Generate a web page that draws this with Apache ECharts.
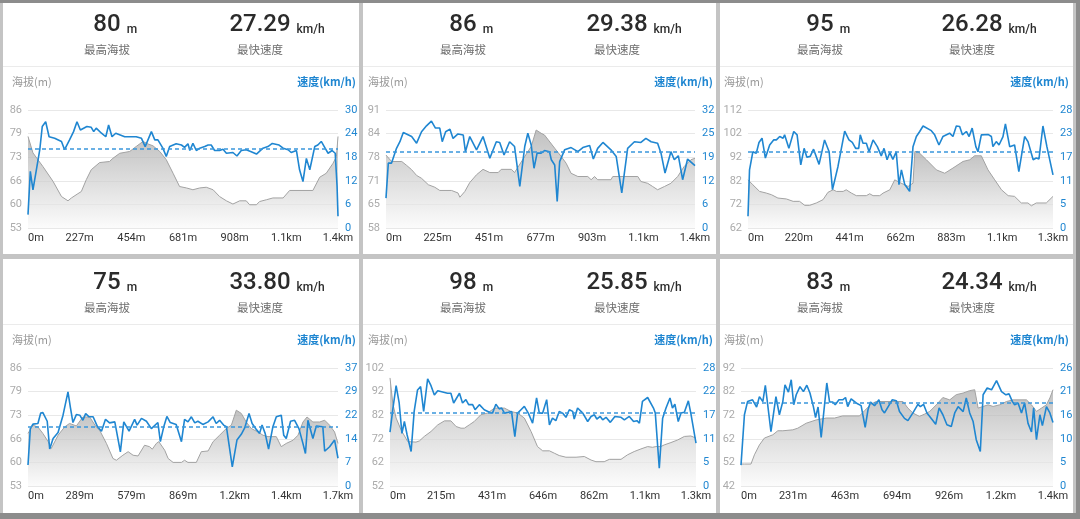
<!DOCTYPE html>
<html><head><meta charset="utf-8">
<script src="https://cdn.jsdelivr.net/npm/echarts@6/dist/echarts.min.js"></script>
<style>
html,body{margin:0;padding:0;background:#8c8c8c;width:1080px;height:519px;overflow:hidden;position:relative;}
#frame{position:absolute;left:0;top:3px;width:1076px;height:510px;background:#c4c4c4;}
.card{position:absolute;background:#fff;}
#c{position:absolute;left:0;top:0;width:1080px;height:519px;}
</style>
</head><body><div id="frame"></div><div id="cards"></div><div id="c"></div>
<script>
// ---------------- DATA ----------------
const maxElevation = ['80', '86', '95', '75', '98', '83'];
const maxSpeed = ['27.29', '29.38', '26.28', '33.80', '25.85', '24.34'];
const avgSpeed = [20.1, 20.7, 18.1, 18.6, 17.5, 18.4];

const elevTicks = [[53,60,66,73,79,86],[58,65,71,78,84,91],[62,72,82,92,102,112],[53,60,66,73,79,86],[52,62,72,82,92,102],[42,52,62,72,82,92]];
const speedTicks = [[0,6,12,18,24,30],[0,6,12,19,25,32],[0,5,11,17,23,28],[0,7,14,22,29,37],[0,5,11,17,22,28],[0,5,10,16,21,26]];
const distTicks = [
  ['0m','227m','454m','681m','908m','1.1km','1.4km'],
  ['0m','225m','451m','677m','903m','1.1km','1.4km'],
  ['0m','220m','441m','662m','883m','1.1km','1.3km'],
  ['0m','289m','579m','869m','1.2km','1.4km','1.7km'],
  ['0m','215m','431m','646m','862m','1.1km','1.3km'],
  ['0m','231m','463m','694m','926m','1.2km','1.4km']
];

// positions are % of route distance
const p1ElevPos = [0,1.6,4.8,8.1,10.8,12.9,14.0,16.1,17.2,18.8,20.4,23.1,26.3,27.4,29.6,32.8,34.9,37.1,38.7,40.3,42.5,44.6,46.8,48.9,51.1,53.2,55.4,57.5,59.7,61.8,64.0,66.1,68.3,70.4,71.5,73.7,74.7,76.9,79.0,82.3,84.4,91.9,94.1,96.2,98.4,99.5,100];
const p1Elev = [78.6,74.0,70.2,66.0,61.8,60.6,61.4,62.6,63.2,66.5,69.3,71.3,71.6,72.5,73.9,74.4,75.8,77.2,76.5,76.0,74.4,72.1,68.3,64.6,64.2,63.7,64.2,64.4,63.7,61.8,60.6,59.7,60.6,60.6,59.5,59.5,60.4,60.9,61.4,61.4,63.5,63.5,67.2,68.3,71.1,73.0,78.6];
const p1SpeedPos = [0,0.75,1.6,2.7,3.8,4.6,5.7,6.8,8.6,10.8,11.8,13.4,14.7,15.8,16.9,19.0,20.4,21.2,22.0,23.7,25.1,26.0,27.1,28.3,31.2,34.9,36.6,37.8,39.8,40.9,41.9,43.5,44.6,45.7,47.8,49.5,50.5,51.6,52.2,53.2,54.3,55.4,57.0,58.1,59.1,60.2,61.8,62.9,64.0,66.1,67.4,68.8,70.4,72.0,73.7,75.8,77.4,78.8,81.0,82.3,83.9,84.9,86.6,87.6,88.7,89.8,90.9,92.5,93.5,94.6,95.7,96.8,98.1,99.1,99.7,100];
const p1Speed = [3.4,14.4,9.7,14.8,19.9,25.8,27.0,23.2,22.8,22.0,19.9,22.4,24.5,27.0,24.9,25.8,25.6,24.5,25.4,24.1,23.2,26.2,23.2,24.1,23.2,23.2,22.8,20.7,24.5,22.4,22.4,20.3,18.2,20.7,21.4,21.1,20.5,21.4,19.7,21.5,19.7,20.3,20.7,21.1,21.1,19.7,19.7,20.0,19.0,19.2,18.3,19.7,19.9,19.4,18.8,20.3,20.7,21.5,21.1,20.3,19.9,19.2,19.7,14.8,11.8,17.7,14.8,20.7,21.1,22.0,20.5,19.0,19.7,19.0,10.6,3.0];

const p2ElevPos = [0,1.8,5.1,6.7,8.3,9.9,11.5,13.7,15.8,17.4,21.2,23.3,23.9,25.5,27.1,29.3,31.4,33.6,36.3,37.3,40.6,41.6,44.9,47.0,48.6,50.2,51.3,54.6,56.7,58.3,59.9,62.1,65.3,66.4,67.5,68.5,72.8,73.4,81.5,82.5,84.7,86.3,87.9,90.1,92.2,94.4,96.5,98.7,100];
const p2Elev = [78.4,76.6,76.6,75.5,74.3,72.7,71.9,70.1,69.4,68.5,68.5,67.8,66.6,68.2,70.7,72.9,74.4,73.5,73.5,74.4,74.4,73.5,78.0,80.8,85.4,84.5,84.0,80.3,78.0,76.1,73.3,72.4,72.4,71.5,72.4,71.5,71.5,72.4,72.4,71.0,70.5,69.6,68.7,69.6,70.5,72.4,75.2,77.1,77.5];
const p2SpeedPos = [0,0.75,1.8,3.4,4.5,5.6,8.3,9.9,11.5,13.1,14.7,16.0,17.4,18.2,19.3,20.7,21.7,23.3,25.0,25.7,27.1,29.3,31.4,33.6,35.7,36.8,38.2,40.0,41.6,43.3,44.9,45.9,47.0,47.9,48.9,50.2,51.3,52.9,53.5,54.6,55.4,56.2,57.8,59.9,62.1,63.7,65.9,67.1,68.5,70.2,72.8,74.5,76.3,78.2,80.4,82.5,84.1,85.8,87.9,89.0,90.3,92.2,93.3,94.6,96.0,97.6,100];
const p2Speed = [8.1,17.6,17.6,21.6,23.4,25.9,24.8,23.0,26.1,27.7,29.0,27.1,27.1,23.4,26.1,26.8,24.3,25.5,25.2,20.7,24.8,21.2,24.8,18.9,23.4,23.2,19.8,23.4,22.1,11.3,22.1,25.7,22.5,16.2,20.3,20.3,21.0,20.7,18.5,17.1,7.2,18.0,21.2,21.8,20.7,21.8,22.4,18.7,21.6,23.2,21.2,19.4,9.5,21.6,23.4,23.2,24.3,23.4,23.0,20.3,14.9,20.7,18.5,19.6,13.1,18.7,16.9];

const p3ElevPos = [0,1.6,3.8,6.0,7.7,9.8,12.6,14.8,16.9,18.6,20.2,22.4,24.6,26.2,27.9,29.0,31.2,32.2,33.9,35.5,38.8,39.9,41.0,43.2,44.3,46.5,48.1,49.7,52.5,54.1,54.7,55.7,58.5,61.8,64.5,67.2,70.5,72.7,74.3,76.5,78.7,80.9,83.1,85.3,87.4,89.6,91.8,92.9,94.5,97.8,100];
const p3Elev = [82.4,80.3,77.5,76.8,76.1,74.7,74.3,73.3,73.3,71.6,71.6,72.6,74.0,77.1,78.2,77.5,77.5,78.2,76.8,75.7,75.7,76.5,75.7,75.7,76.8,78.2,82.4,81.3,79.6,81.0,94.4,94.4,90.9,86.6,85.2,87.4,90.2,90.9,92.6,92.6,86.6,82.4,78.2,75.7,75.4,72.6,72.6,71.4,72.6,72.6,75.4];
const p3SpeedPos = [0,0.5,1.6,2.7,3.6,4.6,5.7,7.1,8.4,9.3,10.4,11.5,12.0,13.4,15.0,16.1,17.3,18.4,19.3,20.4,21.5,23.3,25.1,26.6,27.7,29.5,31.7,33.1,34.2,35.3,36.3,36.8,37.7,38.8,39.7,41.0,42.4,43.7,44.6,45.6,46.5,47.5,48.6,49.5,50.3,51.4,53.0,54.1,55.2,56.3,57.4,60.1,61.2,62.6,63.9,66.1,67.2,68.3,69.4,70.3,71.6,72.5,73.5,74.7,75.4,76.5,78.7,79.8,80.3,81.4,82.3,83.6,84.4,85.8,87.4,88.8,90.7,91.8,93.5,94.5,95.4,96.7,98.0,100];
const p3Speed = [2.8,13.8,18.1,17.7,20.3,21.3,16.6,19.7,20.9,20.9,21.7,21.3,22.1,18.9,22.9,22.1,15.0,18.9,16.8,17.0,18.7,15.1,20.9,18.1,9.1,14.6,23.0,20.9,20.3,18.9,18.9,22.1,20.1,20.1,18.1,20.9,19.3,17.1,18.9,16.2,17.9,16.3,18.1,10.3,13.8,10.3,8.7,19.3,21.7,22.9,24.2,23.1,22.1,19.7,21.7,22.5,21.7,24.2,24.1,22.1,22.9,21.7,23.7,19.3,18.1,22.1,22.2,21.7,19.3,20.5,19.7,21.7,24.7,19.3,19.7,13.4,21.7,20.5,16.2,16.6,16.4,24.2,19.3,12.6];

const p4ElevPos = [0,1.6,3.2,4.8,6.5,7.5,9.7,11.8,13.4,15.6,17.7,19.9,22.0,23.1,25.3,27.4,28.5,30.6,32.3,33.9,35.5,37.6,39.2,40.1,41.4,42.2,44.1,45.2,46.8,49.5,50.5,51.6,54.3,55.9,58.1,59.7,61.8,64.0,65.6,67.2,68.8,70.4,72.0,74.2,75.8,77.4,80.1,81.7,83.3,85.5,87.1,88.7,90.0,91.9,94.1,95.7,97.3,98.9,100];
const p4Elev = [67.7,70.0,69.5,67.7,65.4,63.5,67.2,69.5,70.5,69.8,72.3,72.3,69.5,68.6,64.9,60.7,60.2,61.6,62.6,61.6,61.4,64.4,64.0,63.3,64.9,65.4,63.0,60.7,59.6,59.6,60.2,59.6,59.6,62.6,62.8,65.4,67.2,69.1,70.0,74.2,73.3,70.9,69.1,68.1,67.2,66.8,66.8,64.0,64.9,65.8,67.2,70.9,72.3,70.9,70.9,71.4,70.0,68.1,64.9];
const p4SpeedPos = [0,0.75,1.6,3.2,4.1,4.8,6.2,7.0,8.1,9.7,11.3,12.9,13.7,14.5,15.6,16.7,17.7,18.6,19.7,21.0,22.4,23.7,25.0,26.3,28.0,29.8,30.9,32.6,34.4,35.2,36.6,38.2,39.8,41.9,42.7,43.8,44.8,45.9,47.8,49.5,50.5,51.6,52.7,53.8,54.8,56.4,58.1,59.7,60.7,61.8,63.1,64.0,65.9,67.4,68.8,69.9,71.3,72.3,73.6,74.7,75.5,76.5,77.6,79.0,80.1,81.7,82.5,83.3,84.7,86.0,87.4,88.7,89.5,90.3,91.9,93.0,95.1,95.7,97.3,98.9,100];
const p4Speed = [6.6,18.0,19.4,19.6,22.9,23.0,20.3,11.6,14.9,16.8,22.2,29.5,24.5,19.9,22.4,22.2,20.6,22.7,21.7,21.7,18.6,17.2,20.9,19.8,20.1,10.7,20.1,17.2,20.9,19.1,21.2,20.3,18.0,19.9,13.9,18.6,21.8,19.9,19.3,13.9,20.9,20.1,21.7,19.8,20.3,19.3,20.1,21.7,19.6,20.6,19.1,18.6,6.0,14.4,16.2,18.2,22.7,19.6,17.8,16.5,19.1,16.5,11.6,18.6,21.7,22.2,15.9,14.9,20.3,20.6,18.0,13.3,10.2,20.6,14.9,18.8,18.6,10.9,12.3,14.4,8.7];

const p5ElevPos = [0,0.9,2.0,3.6,5.8,8.5,9.6,11.2,13.4,15.6,17.8,19.9,21.6,23.2,24.3,25.9,27.5,29.7,31.9,34.1,37.4,39.5,41.7,43.9,46.1,48.2,49.9,52.1,53.7,55.3,57.5,60.8,63.5,65.7,67.3,70.0,71.7,75.5,77.6,79.8,82.0,84.2,85.8,86.9,88.5,89.6,91.8,94.0,96.2,98.3,100];
const p5Elev = [97.8,87.1,80.8,75.8,70.8,70.6,71.1,73.0,75.1,77.9,79.6,79.6,77.2,76.5,76.5,77.9,79.3,82.2,82.9,85.0,85.0,83.6,82.9,80.8,75.1,68.7,66.9,66.9,65.9,64.9,64.2,64.2,64.5,63.0,62.3,62.3,63.3,63.3,65.2,66.6,67.7,68.7,68.4,68.7,68.7,69.4,70.4,71.5,73.0,73.2,72.3];
const p5SpeedPos = [0,0.9,2.0,3.0,3.9,4.7,5.6,6.9,7.9,9.0,10.0,11.0,12.3,13.4,14.5,15.6,17.2,18.8,19.9,20.8,22.7,23.7,24.8,25.7,27.0,27.8,29.2,30.8,32.5,33.5,34.6,35.7,36.5,37.4,38.7,39.7,40.8,41.7,42.8,43.9,45.2,46.6,47.9,48.8,49.9,51.2,52.1,53.1,54.2,55.3,56.4,57.5,58.6,59.7,60.2,61.3,63.0,64.6,65.7,66.8,67.6,68.7,69.5,70.6,72.0,73.5,75.5,76.6,78.2,79.6,80.7,81.5,82.5,84.2,84.8,86.1,86.7,88.0,89.1,90.2,91.5,92.3,93.1,94.2,95.1,96.2,97.5,98.3,100];
const p5Speed = [12.8,18.1,23.8,19.7,12.5,15.3,12.1,8.2,17.7,22.8,23.6,17.7,25.4,23.8,21.6,22.6,22.3,22.0,22.0,19.7,22.0,19.7,20.5,19.3,19.3,18.1,19.3,18.1,17.5,17.3,19.4,18.3,18.5,17.3,17.5,17.7,11.7,17.3,18.1,18.9,17.3,14.9,20.9,17.3,17.3,20.5,14.5,16.1,15.5,17.7,17.3,16.3,18.1,17.7,15.9,18.5,17.3,15.3,16.5,16.9,15.9,16.5,15.7,16.3,15.1,16.5,16.3,15.7,16.5,15.3,15.5,14.9,20.1,21.0,21.4,18.5,17.3,4.2,16.1,18.5,20.9,18.5,19.4,15.3,17.3,17.5,20.2,17.3,10.2];

const p6ElevPos = [0,1.1,3.2,4.3,5.9,7.5,10.2,11.8,13.4,16.6,18.2,20.9,24.1,27.3,30.0,32.6,38.0,39.6,41.7,43.3,51.9,53.5,55.1,57.2,58.9,60.5,62.6,64.7,66.9,69.0,71.2,73.3,74.9,76.0,77.6,79.2,80.8,82.9,85.1,87.2,91.5,93.1,94.7,96.3,97.9,99.0,100];
const p6Elev = [51.3,51.3,51.3,55.2,59.4,62.3,63.7,65.4,65.4,65.8,66.5,68.6,70.0,70.8,70.8,71.7,71.7,73.9,76.7,77.8,77.8,75.0,72.9,71.5,72.5,73.6,76.4,79.5,78.5,80.7,81.4,82.4,82.8,75.0,75.7,76.4,75.7,76.4,77.8,78.5,78.5,76.4,73.6,75.0,76.4,79.3,82.8];
const p6SpeedPos = [0,1.1,2.1,3.7,5.0,5.9,7.0,7.8,9.6,11.2,12.3,13.4,14.1,15.2,16.1,16.9,17.7,18.9,20.0,21.1,22.1,23.2,23.9,24.7,25.7,27.5,28.4,29.4,30.2,31.4,32.6,33.5,34.2,35.3,36.9,38.5,39.8,40.7,41.5,42.8,44.2,45.2,46.0,47.6,48.5,49.8,50.8,52.4,53.5,55.1,56.7,57.5,58.5,59.6,61.3,62.4,63.5,64.7,66.0,67.4,68.5,69.6,71.2,72.2,73.3,74.4,75.4,76.7,77.6,78.9,80.3,81.9,83.5,84.9,85.9,87.0,87.7,88.8,89.9,90.9,92.0,93.1,93.8,94.7,95.8,96.6,97.9,99.0,100];
const p6Speed = [4.6,15.7,18.6,19.0,17.4,19.7,18.6,22.2,12.0,19.7,15.7,18.6,22.3,20.7,23.4,17.9,20.1,21.9,20.8,22.2,20.5,17.5,15.1,17.4,10.7,22.7,18.5,18.5,17.9,19.0,19.0,19.5,17.5,19.2,18.3,17.7,12.9,16.8,18.5,17.7,19.0,16.8,16.1,18.0,19.0,18.8,16.4,14.9,14.4,16.1,18.0,17.5,18.0,16.1,14.6,13.6,17.2,15.7,13.5,13.1,16.1,17.5,16.4,19.4,16.1,14.2,10.2,7.6,20.1,21.6,21.2,23.2,20.8,20.1,20.3,18.6,17.9,18.3,16.1,18.3,13.8,11.9,17.2,10.2,15.7,13.3,17.5,16.1,14.0];

// ---------------- LAYOUT ----------------
const elevPos = [p1ElevPos, p2ElevPos, p3ElevPos, p4ElevPos, p5ElevPos, p6ElevPos];
const elevVals = [p1Elev, p2Elev, p3Elev, p4Elev, p5Elev, p6Elev];
const speedPos = [p1SpeedPos, p2SpeedPos, p3SpeedPos, p4SpeedPos, p5SpeedPos, p6SpeedPos];
const speedVals = [p1Speed, p2Speed, p3Speed, p4Speed, p5Speed, p6Speed];

const BLUE = '#1f86d1';
const DASH_BLUE = '#3a97dc';
const FONT = 'Roboto, "Noto Sans CJK SC", sans-serif';
const CJK = '"Noto Sans CJK SC", Roboto, sans-serif';

const cardRects = [[3,3,356,251],[363,3,353,251],[720,3,353,251],[3,259,356,254],[363,259,353,254],[720,259,353,254]];
const gridRects = [[28,110,310,118],[386,110,309,118],[748,110,305,118],[28,368,310,118],[390,368,306,118],[741,368,312,118]];
const statCenters = [[107,260],[463,617],[820,972]];
const titleLeftX = [12, 368, 724];
const titleRightX = [356, 713, 1069];

const cardsDiv = document.getElementById('cards');
cardRects.forEach(r => {
  const d = document.createElement('div');
  d.className = 'card';
  d.style.left = r[0] + 'px'; d.style.top = r[1] + 'px';
  d.style.width = r[2] + 'px'; d.style.height = r[3] + 'px';
  cardsDiv.appendChild(d);
});

const mctx = document.createElement('canvas').getContext('2d');
function tw(text, font) { mctx.font = font; return mctx.measureText(text).width; }
const NUM_FONT = '500 24px Roboto';
const UNIT_FONT = '500 12px Roboto';

const zip = (a, b) => { const n = Math.min(a.length, b.length); const out = []; for (let k = 0; k < n; k++) out.push([a[k], b[k]]); return out; };

const grids = [], xAxes = [], yAxes = [], series = [], graphics = [];

for (let i = 0; i < 6; i++) {
  const g = gridRects[i];
  grids.push({ left: g[0], top: g[1], width: g[2], height: g[3], containLabel: false });

  const dt = distTicks[i];
  xAxes.push({
    type: 'value', gridIndex: i, min: 0, max: 100, interval: 100 / 6,
    axisLine: { show: false }, axisTick: { show: false }, splitLine: { show: false },
    axisLabel: {
      color: '#333', fontSize: 11, fontFamily: FONT, margin: 5,
      alignMinLabel: 'left', alignMaxLabel: 'center',
      showMinLabel: true, showMaxLabel: true,
      formatter: v => dt[Math.round(v * 6 / 100)] || ''
    }
  });

  const et = elevTicks[i], st = speedTicks[i];
  const eMin = et[0], eMax = et[5], eInt = (eMax - eMin) / 5;
  const sMin = st[0], sMax = st[5], sInt = (sMax - sMin) / 5;
  yAxes.push({
    type: 'value', gridIndex: i, position: 'left', min: eMin, max: eMax, interval: eInt,
    axisLine: { show: false }, axisTick: { show: false },
    splitLine: { show: true, lineStyle: { color: '#e8e8e8', width: 1 } },
    axisLabel: { color: '#ababab', fontSize: 11, fontFamily: FONT, margin: 6,
      formatter: v => String(et[Math.round((v - eMin) / eInt)]) }
  });
  yAxes.push({
    type: 'value', gridIndex: i, position: 'right', min: sMin, max: sMax, interval: sInt,
    axisLine: { show: false }, axisTick: { show: false }, splitLine: { show: false },
    axisLabel: { color: BLUE, fontSize: 11, fontFamily: FONT, margin: 7,
      formatter: v => String(st[Math.round((v - sMin) / sInt)]) }
  });

  series.push({
    type: 'line', xAxisIndex: i, yAxisIndex: 2 * i, data: zip(elevPos[i], elevVals[i]),
    symbol: 'none', silent: true, z: 1, color: '#a2a2a2',
    lineStyle: { color: '#a2a2a2', width: 1 },
    areaStyle: { origin: 'start', color: new echarts.graphic.LinearGradient(0, 0, 0, 1, [
      { offset: 0, color: '#a6a6a6' }, { offset: 1, color: '#f9f9f9' }]) }
  });
  series.push({
    type: 'line', xAxisIndex: i, yAxisIndex: 2 * i + 1, data: zip(speedPos[i], speedVals[i]),
    symbol: 'none', silent: true, z: 3, color: BLUE,
    itemStyle: { color: BLUE },
    lineStyle: { color: BLUE, width: 1.6 },
    markLine: { symbol: ['none', 'none'], silent: true, animation: false, label: { show: false },
      itemStyle: { color: DASH_BLUE },
      lineStyle: { color: DASH_BLUE, type: [4, 3], width: 1.5, opacity: 1 },
      emphasis: { disabled: true },
      data: [{ yAxis: avgSpeed[i], lineStyle: { color: DASH_BLUE, type: [4, 3], width: 1.5 } }] }
  });

  // header & titles
  const c = i % 3, r = Math.floor(i / 3), dy = r * 258;
  const card = cardRects[i];
  const stats = [[statCenters[c][0], maxElevation[i], 'm', '最高海拔'], [statCenters[c][1], maxSpeed[i], 'km/h', '最快速度']];
  stats.forEach(s => {
    const w = tw(s[1], NUM_FONT);
    graphics.push({ type: 'text', x: s[0], y: 25 + dy, z: 10, style: { text: s[1], font: NUM_FONT, fill: '#2b2b2b', align: 'center', verticalAlign: 'middle' } });
    graphics.push({ type: 'text', x: s[0] + w / 2 + 6, y: 29.5 + dy, z: 10, style: { text: s[2], font: UNIT_FONT, fill: '#2b2b2b', align: 'left', verticalAlign: 'middle' } });
    graphics.push({ type: 'text', x: s[0], y: 50 + dy, z: 10, style: { text: s[3], font: '11.5px ' + CJK, fill: '#6e6e6e', align: 'center', verticalAlign: 'middle' } });
  });
  graphics.push({ type: 'line', z: 10, shape: { x1: card[0], y1: 66.5 + dy, x2: card[0] + card[2], y2: 66.5 + dy }, style: { stroke: '#ebebeb', lineWidth: 1 } });
  graphics.push({ type: 'text', x: titleLeftX[c], y: 82 + dy, z: 10, style: { text: '海拔(m)', font: '11px ' + CJK, fill: '#999', align: 'left', verticalAlign: 'middle' } });
  graphics.push({ type: 'text', x: titleRightX[c], y: 82 + dy, z: 10, style: { text: '速度(km/h)', font: 'bold 11px ' + CJK, fill: BLUE, align: 'right', verticalAlign: 'middle' } });
}

const chart = echarts.init(document.getElementById('c'), null, { renderer: 'canvas' });
chart.setOption({
  animation: false,
  backgroundColor: 'transparent',
  textStyle: { fontFamily: FONT },
  grid: grids, xAxis: xAxes, yAxis: yAxes, series: series,
  graphic: { elements: graphics }
});
</script></body></html>
